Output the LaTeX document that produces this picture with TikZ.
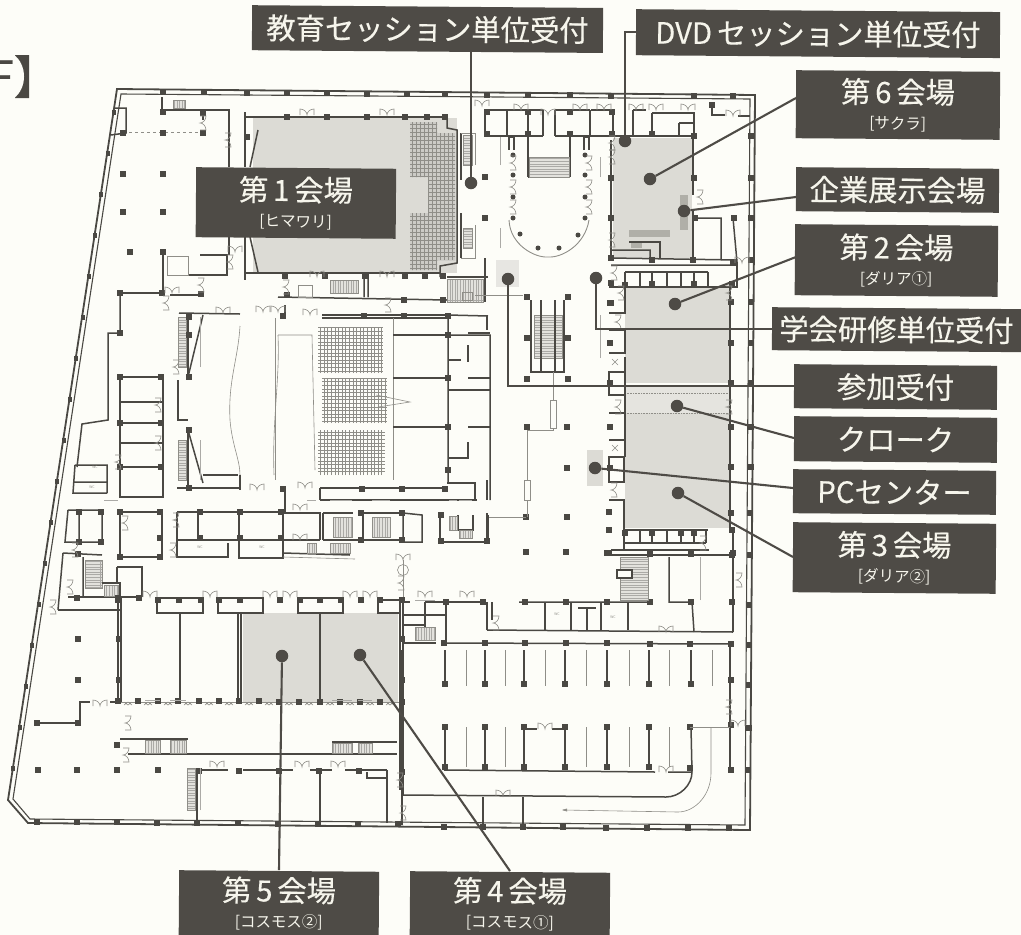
\documentclass[tikz,border=0pt]{standalone}
\usepackage{fontspec}
\setmainfont{Noto Sans CJK JP}
\newfontfamily\jpb[FakeBold=0.35]{Noto Sans CJK JP}
\definecolor{paper}{HTML}{FDFDF8}
\definecolor{boxc}{HTML}{4E4B46}
\definecolor{txtc}{HTML}{F6F5EC}
\definecolor{wallc}{HTML}{4A4843}
\definecolor{hallc}{HTML}{DCDBD5}
\definecolor{darkc}{HTML}{B0AFA8}
\definecolor{thinc}{HTML}{8F8E88}
\tikzset{
  wl/.style={draw=wallc,line width=1.5pt,line join=miter},
  wt/.style={draw=wallc,line width=2.8pt},
  wn/.style={draw=thinc,line width=.6pt},
  lab/.style={fill=boxc,text=txtc,inner sep=0pt,align=center,rotate=-0.45,font=\jpb\fontsize{29.3}{31}\selectfont},
  conn/.style={draw=boxc,line width=2.1pt},
  dotn/.style={circle,fill=boxc,draw=none,minimum size=12.5pt,inner sep=0pt},
  seat/.style={draw=thinc,line width=.4pt}
}
\newcommand{\cols}[1]{\foreach \a/\b in {#1}{\fill[wallc] (\a-2.9,\b-2.9) rectangle (\a+2.9,\b+2.9);}}
\newcommand{\hd}[1]{\foreach \a/\b in {#1}{\draw[wn] (\a-7,\b) -- (\a-7,\b-6) .. controls (\a-3,\b-6) and (\a,\b-3) .. (\a,\b) .. controls (\a,\b-3) and (\a+3,\b-6) .. (\a+7,\b-6) -- (\a+7,\b);}}
\newcommand{\vd}[1]{\foreach \a/\b in {#1}{\draw[wn] (\a,\b-7) -- (\a+6,\b-7) .. controls (\a+6,\b-3) and (\a+3,\b) .. (\a,\b) .. controls (\a+3,\b) and (\a+6,\b+3) .. (\a+6,\b+7) -- (\a,\b+7);}}
\newcommand{\stair}[4]{\fill[hallc!80] (#1,#2) rectangle (#3,#4);\draw[seat,draw=thinc!75,line width=.25pt,xstep=2.6pt,ystep=100pt] (#1,#2) grid (#3,#4);\draw[wn] (#1,#2) rectangle (#3,#4);}
\newcommand{\vstair}[4]{\fill[hallc!80] (#1,#2) rectangle (#3,#4);\draw[seat,draw=thinc!75,line width=.25pt,ystep=2.6pt,xstep=100pt] (#1,#2) grid (#3,#4);\draw[wn] (#1,#2) rectangle (#3,#4);}
\newcommand{\sublab}[1]{\\[-5pt]{\normalfont\fontsize{15.5}{17}\selectfont #1}}
\begin{document}
\begin{tikzpicture}[x=1pt,y=-1pt]
\useasboundingbox (0,0) rectangle (1021,935);
\fill[paper] (0,0) rectangle (1021,935);
\node[anchor=base west,inner sep=0pt,text=wallc,font=\jpb\fontsize{46}{48}\selectfont] (title) at (-12,94) {F】};

% --- halls
\fill[hallc] (253,118) rectangle (457,273);
\fill[hallc] (613,138) rectangle (692,258);
\fill[hallc] (625,287) rectangle (730,383);
\fill[hallc!75] (625,385) rectangle (730,413);
\fill[hallc] (625,413) rectangle (730,528);
\fill[hallc] (243,613) rectangle (398,702);
\fill[darkc] (680,195) rectangle (688,230);
\fill[darkc] (629,230) rectangle (670,237);
\fill[darkc] (631,242) rectangle (642,248);
\fill[hallc] (587,450) rectangle (603,486);
\fill[hallc!70] (496,260) rectangle (519,287);
\draw[thinc,line width=.6pt,densely dotted] (625,393) -- (730,393) (625,413) -- (730,413);

% --- seats
\begin{scope}
\clip (410,122) -- (437,122) -- (437,133) -- (455,133) -- (455,260) -- (437,260) -- (437,270) -- (410,270) -- (410,213) -- (428,213) -- (428,177) -- (410,177) -- cycle;
\fill[darkc!65] (405,118) rectangle (458,273);
\draw[seat,step=4pt] (405,118) grid (458,273);
\end{scope}
\draw[seat,step=3.6pt] (318,327) grid (383,373);
\draw[seat,step=3.6pt] (322,378) grid (387,423);
\draw[seat,step=3.6pt] (318,430) grid (385,475);

% --- outer wall
\draw[wl,line width=1.8pt] (117,89) -- (755,95) -- (750,830) -- (28,823) -- (8,800) -- cycle;
\draw[wl,line width=1.1pt] (121,94) -- (750,99) -- (745,825) -- (30,819) -- (13,799) -- cycle;
\foreach \yy in {112,153,194,235,276,317,358,399,440,481,522,563,604,645,686,727,768}{
  \pgfmathsetmacro{\xw}{117-(\yy-89)*0.1533+1}
  \fill[wallc] (\xw-2.5,\yy-2.5) rectangle (\xw+1.5,\yy+2.5);}
\cols{163/92,204/92,247/93,287/93,327/93,367/94,407/94,445/94,487/95,528/95,570/95,611/96,694/96,733/96}
\cols{751/136,751/178,751/218,751/260,751/302,751/343,751/383,751/427,751/467,750/513,750/555,749/605,749/645,749/685,749/728,748/770}
\cols{37/822,77/822,117/822,157/823,197/823,238/823,278/824,318/824,358/824,398/824,444/827,483/827,523/827,563/827,606/828,647/828,688/828,729/828}

% --- top left rooms
\draw[wl] (162,97) -- (162,110) -- (203,110) (203,110) -- (229,110) -- (229,167) (203,110) -- (203,120);
\draw[wl] (115,108) -- (126,108) -- (126,133) -- (111,135);
\draw[wn,dashed] (123,132) -- (203,132);
\stair{173}{100}{185}{108}
\cols{123/133,163/133,203/133,163/112,203/113,123/174,163/174,123/212,163/212,130/252,163/252}
\draw[wl] (229,237) -- (229,255) (200,255) -- (227,255) -- (227,275) -- (188,275);
\draw[wn] (188,256) -- (167,256) -- (167,275) -- (188,275) -- (188,256);
\draw[wl] (163,252) -- (163,293) (120,293) -- (163,293) (170,295) -- (203,295);
\draw[wl] (120,293) -- (120,333) -- (108,333) -- (108,420) -- (82,424) -- (77,467);
\cols{120/293,162/293,201/294,120/333}

% --- Hall 1
\draw[wl] (245,117) -- (447,117) (245,273) -- (440,273);
\draw[wt] (245,112) -- (245,167) (245,237) -- (245,280);
\draw[wl] (258,130) -- (250,167) (250,237) -- (258,272);
\draw[wl] (447,117) -- (447,128) -- (457,130) -- (457,263) -- (440,266) -- (440,277);
\draw[wt] (461,133) -- (461,180) (461,213) -- (461,258);
\draw[wn] (461,133) -- (475,133) -- (475,165) (461,258) -- (475,258) -- (475,225);
\vstair{463}{135}{472}{165}
\vstair{463}{228}{472}{248}
\cols{287/117,327/117,367/117,405/117,427/117,445/117,285/276,325/276,365/276,405/276,425/276,443/276,247/137}
% below hall 1
\draw[wl] (278,297) -- (447,300) (364,273) -- (364,297) (368,273) -- (368,297);
\draw[wl] (447,277) -- (488,277);
\draw[wt] (485,258) -- (485,302);
\stair{447}{279}{483}{302}
\stair{330}{280}{358}{293}
\draw[wn] (298,285) rectangle (312,297);
\cols{404/300,443/300,287/295}
\draw[wn] (462,292) rectangle (472,300);

% --- Main theatre
\draw[wl] (179,313) -- (240,314);
\draw[wl] (322,315) -- (448,315) (322,318) -- (448,318);
\draw[wl] (285,305) -- (285,315);
\draw[wl] (448,315) -- (448,483) (448,315) -- (488,316) (448,335) -- (490,335) -- (490,500);
\draw[wt] (487,316) -- (487,330);
\draw[wn] (393,318) -- (393,480) (275,318) -- (275,480);
\draw[wl] (393,335) -- (448,335) (393,378) -- (448,378) (393,427) -- (448,427);
\draw[wl] (448,360) -- (461,360) (448,390) -- (490,390);
\draw[wt] (468,378) -- (490,378) (468,427) -- (490,427) (468,333) -- (490,333);
\draw[wl] (468,345) -- (468,362) (468,442) -- (468,458) -- (448,458);
\draw[wn] (278,335) -- (312,335) -- (315,470);
\draw[wn] (240,326) .. controls (238,360) and (228,380) .. (230,420) .. controls (232,445) and (240,460) .. (240,475);
\draw[wn] (278,335) .. controls (280,380) and (272,420) .. (274,475);
\draw[wn] (376,395) -- (410,402) -- (378,407);
\draw[wl] (203,315) -- (188,377) (188,430) -- (203,483);
\draw[wl] (188,313) -- (188,377) (188,430) -- (188,488);
\draw[wl] (178,380) -- (178,420) -- (188,420);
\vstair{178}{317}{186}{367}
\vstair{178}{440}{186}{480}
\cols{189/317,189/335,189/377,189/430,189/488,283/316,364/316,404/316,448/316,448/335,448/378,448/427,448/470}
\draw[wl] (177,488) -- (240,488) (240,475) -- (240,490) (203,475) -- (238,475);
\draw[wl] (320,488) -- (447,488) (320,500) -- (477,500) (447,483) -- (475,483) -- (475,500);
\draw[wt] (487,480) -- (487,500);
\draw[wl] (320,488) -- (320,500);
\draw[wl] (285,487) -- (285,512);
\cols{283/489,362/489,402/489,445/489}

% --- left column rooms
\draw[wl] (120,377) -- (163,377) -- (163,497) -- (120,497) -- (120,377);
\draw[wl,line width=1.8pt] (120,423) -- (163,423) (120,467) -- (163,467);
\draw[wl] (120,402) -- (163,402) (120,443) -- (163,443);
\cols{120/377,161/377,120/423,161/423,120/467,161/467}
\draw[wl] (120,512) -- (162,512) -- (162,557) -- (120,557) -- cycle;
\cols{120/512,160/512,120/557,160/557,160/538}
\draw[wl] (177,512) -- (283,512) (177,512) -- (177,557) -- (228,557) -- (228,543) (177,540) -- (283,540) (198,512) -- (198,540) (239,512) -- (239,558) -- (283,558) -- (283,512);
\cols{200/512,240/512,281/512,200/538,240/538,281/538}
\draw[wl] (283,513) -- (320,513) -- (320,540) (283,540) -- (320,540);
\draw[wl] (323,513) -- (353,513) (363,513) -- (403,513) (323,540) -- (403,540) (363,513) -- (363,540) (323,513) -- (323,540);
\stair{333}{517}{352}{537}
\stair{372}{517}{390}{537}
\draw[wl] (403,513) -- (422,515) -- (422,542) -- (403,542) -- (403,513);
\cols{361/513,402/513,361/540,402/540}
\draw[wl] (440,513) -- (440,542) -- (488,542) -- (488,515);
\draw[wl] (458,515) -- (458,530) -- (473,530) -- (473,515);
\stair{449}{516}{457}{530}
\stair{459}{530}{472}{538}
\draw[wt] (487,513) -- (487,542);
\cols{441/515,441/541,487/541}
\draw[wl] (283,553) -- (350,555);
\draw[wn] (283,557) -- (355,559);
\stair{307}{543}{316}{553}
\stair{330}{543}{350}{553}
% small west rooms
\draw[wl] (75,465) -- (107,465) -- (107,493) (75,465) -- (73,493) -- (107,493) (74,482) -- (107,482);
\draw[wl] (68,510) -- (65,542) -- (102,542) -- (102,510) -- (68,510) (79,510) -- (79,542);
\cols{79/512,79/542,101/512,101/542}
\draw[wl] (63,553) -- (58,610) (63,553) -- (102,555) (83,557) -- (83,597);
\vstair{85}{560}{102}{588}
\draw[wl] (102,583) -- (120,583) -- (120,597) (117,567) -- (142,567) -- (142,597) (117,567) -- (117,583);
\draw[wl] (68,597) -- (142,597) (58,610) -- (120,610);
\stair{104}{585}{118}{596}
\cols{77/598,118/598,139/598,78/554}
% --- Bottom halls
\draw[wl] (157,598) -- (203,598) -- (203,613) -- (157,613) -- cycle;
\draw[wl] (218,598) -- (263,598) -- (263,613) -- (218,613) -- cycle;
\draw[wl] (298,598) -- (343,598) -- (343,613) -- (298,613) -- cycle;
\draw[wl] (378,600) -- (400,600) -- (400,613) -- (378,613) -- cycle;
\cols{158/600,179/600,201/600,219/600,240/600,280/600,300/600,320/600,341/600,361/600,380/600,402/600,118/600}
\draw[wl] (180,613) -- (180,702) (320,613) -- (320,702);
\draw[wl,line width=1.2pt] (118,598) -- (118,702) (121,598) -- (121,702);
\draw[wl,line width=1.2pt] (238,613) -- (238,702) (241,613) -- (241,702);
\draw[wl,line width=1.2pt] (400,598) -- (400,790) (403,598) -- (403,795);
\draw[wn] (118,702) -- (402,702);
\cols{138/701,158/701,178/701,199/701,219/701,239/701,259/701,279/702,299/702,320/702,340/702,360/702,380/702,402/702,118/701,119/639,119/680,402/639,402/680}
\foreach \px in {128,148,168,188,209,229,249,269,289,309,330,350,370,390}{\draw[wn] (\px-4,702) -- (\px,705) -- (\px+4,702) (\px-4,705) -- (\px,702) -- (\px+4,705);}
\cols{78/639,78/680,37/723,78/723}
\draw[wl] (37,723) -- (80,723) -- (80,702) -- (90,702) (110,702) -- (118,702);
\draw[wl] (120,739) -- (188,739) (332,742) -- (397,742) (128,754) -- (397,754);
\foreach \px in {198,218,238,258,278,298,318}{\draw[wallc,line width=2pt] (\px-3,754) -- (\px+3,754);}
\stair{145}{740}{160}{753}
\stair{170}{740}{186}{753}
\stair{332}{743}{352}{753}
\stair{358}{743}{372}{753}
\cols{117/745,38/770,77/770,117/770,158/770,239/771,279/771,319/771,359/771,199/771,402/772}
\draw[wl] (197,770) -- (228,770) (243,770) -- (293,770) (310,770) -- (332,770) (345,770) -- (387,770) (197,770) -- (197,823) (320,770) -- (320,823) (387,770) -- (387,823);
\draw[wl] (367,772) -- (367,778) -- (387,778);
\vstair{187}{768}{195}{810}

% --- Entrance rooms (lower middle)
\draw[wl] (402,615) -- (446,615) (446,602) -- (446,643) (402,643) -- (436,643);
\draw[wl] (405,602) -- (410,602) (425,602) -- (446,602) (425,602) -- (425,627) (404,625) -- (425,625);
\stair{415}{627}{435}{640}
\draw[wl] (446,602) -- (485,602) (487,602) -- (487,630) (492,602) -- (492,620);
\draw[wl] (519,602) -- (650,602) (487,630) -- (733,632);
\draw[wl] (545,602) -- (545,630) (571,602) -- (571,630) (587,608) -- (587,630) (601,602) -- (601,630) (628,602) -- (628,630) (578,608) -- (596,608);
\draw[wl] (648,557) -- (648,602) (669,557) -- (669,602) -- (692,602) -- (694,632);
\draw[wl] (733,530) -- (733,632);
\cols{446/602,483/602,525/602,566/602,607/602,650/602,691/602,732/602,732/555,732/530}
\vstair{620}{557}{648}{600}
\draw[wl,fill=paper] (617,570) rectangle (632,578);
\draw[wl] (611,555) -- (733,555) (611,550) -- (709,550);
\draw[wl] (625,530) -- (708,530) (625,543) -- (706,543) (640,530) -- (640,543) (652,530) -- (652,543) (667,530) -- (667,543) (681,530) -- (681,543) (694,530) -- (694,543) (706,530) -- (706,543);
\cols{625/533,652/533,681/533,694/533,607/553,650/554,691/554,733/553}

% --- parking
\draw[wl] (444,643) -- (732,644);
\cols{444/643,485/643,525/643,566/643,607/643,650/644,690/644,731/644}
\foreach \px in {445,485,524,565,607,649,691}{\draw[wl,line width=1.3pt] (\px,650) -- (\px,684); \fill[wallc] (\px-2.9,681.1) rectangle (\px+2.9,686.9);}
\foreach \px in {466,505,545,586,629,669,712}{\draw[wn,line width=.4pt] (\px,650) -- (\px,686);}
\foreach \px in {445,485,565,607,649}{\draw[wl,line width=1.3pt] (\px,726) -- (\px,767); \fill[wallc] (\px-2.9,724.1) rectangle (\px+2.9,729.9); \fill[wallc] (\px-2.9,764.1) rectangle (\px+2.9,769.9);}
\cols{524/727,524/767,690/727,690/768,731/725,731/680,731/770}
\draw[wl] (524,727) -- (524,770) (524,729) -- (537,729) (552,729) -- (565,729);
\foreach \px in {466,505,586,629,669}{\draw[wn,line width=.4pt] (\px,727) -- (\px,767);}
\draw[wl] (444,770) -- (655,772) (668,772) -- (692,772) (691,727) -- (692,772) .. controls (692,785) and (680,797) .. (666,797) -- (402,795);
\draw[wl] (730,645) -- (730,772);
\draw[wn] (690,727) -- (730,727);
\draw[wn] (711,727) -- (711,773) .. controls (711,795) and (695,812) .. (678,812) -- (563,810);
\fill[thinc] (562,810) -- (567,808.5) -- (567,811.5) -- cycle;
\draw[wl] (483,797) -- (483,825) (523,797) -- (523,827) (402,795) -- (402,825);
\draw[wl] (402,650) -- (402,795);

% --- Top rooms row
\draw[wl] (485,110) -- (543,110) (555,110) -- (590,110) (591,110) -- (615,110) (633,110) -- (646,110) (652,113) -- (694,113) -- (694,136);
\draw[wl] (485,136) -- (543,136) (555,136) -- (692,136);
\draw[wl] (485,110) -- (485,136) (507,110) -- (507,136) (528,110) -- (528,136) (543,110) -- (543,136) (555,110) -- (555,136) (590,110) -- (590,136) (613,110) -- (613,136) (633,110) -- (633,136) (652,113) -- (652,136) (679,123) -- (679,136) (679,123) -- (694,123);
\cols{487/112,487/134,528/112,528/134,570/112,570/134,612/112,612/134,652/134,694/136}
\draw[wl] (712,103) -- (712,115) -- (725,115) (738,116) -- (750,116);
\cols{712/105}
% lobby U
\draw[wl] (509,137) -- (509,150) (514,137) -- (514,150) (509,137) -- (514,137) (584,137) -- (584,150) (589,137) -- (589,150) (584,137) -- (589,137);
\draw[wl] (528,136) -- (528,177) (570,136) -- (570,177) (528,177) -- (570,177);
\vstair{529}{157}{569}{177}
\draw[wn,line width=.9pt] (509,220) .. controls (510,245) and (535,258) .. (548,257) .. controls (562,258) and (585,245) .. (589,220);
\foreach \px in {155,175,197,218}{\fill[wallc] (513,\px) circle (2.5); \fill[wallc] (585,\px) circle (2.5);}
\foreach \px/\py in {520/234,578/235,538/248,559/248}{\fill[wallc] (\px,\py) circle (2.5);}
\cols{485/177,485/218}

% --- Hall 6 walls
\draw[wl] (611,140) -- (611,258) (693,136) -- (693,195) (693,211) -- (693,260);
\draw[wl] (611,258) -- (737,260) (611,265) -- (737,265) (611,250) -- (650,250) -- (650,258);
\draw[wl] (629,242) -- (660,242) -- (660,258);
\draw[wl] (694,218) -- (721,218) -- (721,260) (733,218) -- (737,262);
\cols{611/178,611/218,611/258,694/178,695/218,734/218,652/260,693/260,733/262}
% --- halls 2/3
\draw[wl] (737,262) -- (737,287) -- (625,287) -- (625,313) -- (609,313) (609,287) -- (625,287);
\draw[wl] (625,272) -- (708,272) (708,272) -- (708,286);
\foreach \px in {625,640,652,667,681,694}{\draw[wl] (\px,272) -- (\px,286);}
\cols{611/283,625/285,652/284,694/284,732/284,611/303}
\draw[wl] (730,287) -- (730,530);
\cols{731/302,731/343,731/383,731/427,731/467,731/513}
\draw[wl] (609,330) -- (625,330) -- (625,353) -- (609,353);
\draw[wl] (609,372) -- (625,372) -- (625,395) -- (609,395) -- cycle;
\draw[wl] (609,413) -- (625,413) -- (625,440) -- (609,440);
\draw[wl] (609,457) -- (624,457) -- (624,482) -- (609,482) -- cycle;
\draw[wl] (609,500) -- (624,500) -- (624,550);
\cols{610/303,610/343,610/383,610/427,610/468,609/512,609/530,609/553}
\draw[wl] (625,357) -- (625,372) (625,395) -- (625,413) (625,440) -- (625,457);
% --- columns/escalators
\draw[wl] (531,300) -- (531,372) -- (564,372) -- (564,300);
\vstair{534}{315}{562}{358}
\draw[wl] (541,300) -- (541,372) (555,300) -- (555,372);
\cols{527/297,568/297,527/338,568/338,527/379,568/379,527/427,567/427,526/517,567/517,526/552,566/552,567/468}
\draw[wn] (475,295) -- (523,295) (553,372) -- (553,430) -- (527,430) (527,430) -- (527,517) (489,517) -- (526,517);
\draw[wn,fill=paper] (550,400) rectangle (556,428);
\draw[wn,fill=paper] (524,480) rectangle (530,500);

% --- doors
\hd{307/115,387/115,235/252,172/293,263/312,278/312,310/315,223/313,317/277,387/277,425/597,467/597,150/597,210/597,270/597,290/597,350/597,370/597,300/510,300/540,100/706,217/767,302/767,338/767,257/490,305/488,521/110,548/115,580/110,604/110,636/110,656/110,688/110,733/116,482/106,666/632,738/726,545/729,503/796,666/772,742/263}
\vd{200/123,225/140,227/262,198/285,163/303,283/287,385/305,173/367,155/405,155/443,115/462,173/520,122/523,170/550,72/550,67/587,50/607,125/723,123/755,397/780,400/813,493/623,609/143,609/157,609/240,697/197,510/163,510/187,510/207,586/163,586/187,586/207,611/273,618/293,726/293,615/322,615/407,726/407,611/490,736/580,726/707,700/543}
\draw[wn] (403,560) -- (403,597);
\draw[wn] (403,570) circle (5.5);
\hd{403/560}
\vd{398/583}
\foreach \px/\py in {615/362,615/448}{\draw[wn] (\px-3,\py-3) -- (\px+3,\py+3) (\px-3,\py+3) -- (\px+3,\py-3);}
% WC marks
\foreach \px/\py in {95/467,92/487,200/547,262/547,557/614,613/617}{\node[text=thinc,font=\fontsize{3.5}{4}\selectfont,inner sep=0pt] at (\px,\py) {WC};}

% --- markers and labels
\node[dotn] (dEdu) at (471,183) {};
\node[dotn] (dDvd) at (625,141) {};
\node[dotn] (dSix) at (650,179) {};
\node[dotn] (dExh) at (684,211) {};
\node[dotn] (dTwo) at (675,304) {};
\node[dotn] (dGak) at (596,278) {};
\node[dotn] (dReg) at (508,279) {};
\node[dotn] (dClo) at (677,406) {};
\node[dotn] (dPc) at (595,468) {};
\node[dotn] (dThr) at (678,493) {};
\node[dotn] (dFiv) at (282,656) {};
\node[dotn] (dFou) at (360,655) {};

\node[lab,minimum width=351pt,minimum height=45pt,anchor=north west] (lEdu) at (252,5) {教育セッション単位受付};
\node[lab,minimum width=364pt,minimum height=46pt,anchor=north west] (lDvd) at (636,9) {DVD\,セッション単位受付};
\node[lab,minimum width=204pt,minimum height=68pt,anchor=north west] (lSix) at (796,70) {第\,6\,会場\sublab{[サクラ]}};
\node[lab,minimum width=203pt,minimum height=44pt,anchor=north west] (lExh) at (796,167) {企業展示会場};
\node[lab,minimum width=203pt,minimum height=71pt,anchor=north west] (lTwo) at (795,224) {第\,2\,会場\sublab{[ダリア①]}};
\node[lab,minimum width=249pt,minimum height=43pt,anchor=north west] (lGak) at (772,307) {学会研修単位受付};
\node[lab,minimum width=203pt,minimum height=44pt,anchor=north west] (lReg) at (794,364) {参加受付};
\node[lab,minimum width=203pt,minimum height=45pt,anchor=north west] (lClo) at (794,416) {クローク};
\node[lab,minimum width=203pt,minimum height=44pt,anchor=north west] (lPc) at (793,469) {PCセンター};
\node[lab,minimum width=203pt,minimum height=70pt,anchor=north west] (lThr) at (793,522) {第\,3\,会場\sublab{[ダリア②]}};
\node[lab,minimum width=200pt,minimum height=70pt,anchor=north west] (lOne) at (196,167) {第\,1\,会場\sublab{[ヒマワリ]}};
\node[lab,minimum width=200pt,minimum height=65pt,anchor=north west] (lFiv) at (179,870) {第\,5\,会場\sublab{[コスモス②]}};
\node[lab,minimum width=200pt,minimum height=64pt,anchor=north west] (lFou) at (410,871) {第\,4\,会場\sublab{[コスモス①]}};

\coordinate (pDvd) at (lDvd.west);
\coordinate (pSix) at (796,98);
\coordinate (pExh) at (796,197);
\coordinate (pTwo) at (796,257);
\coordinate (pClo) at (794,438);
\coordinate (pPc) at (793,488);
\coordinate (pThr) at (793,557);
\coordinate (pFou) at (510,871);
\coordinate (pFiv) at (279,870);

\draw[conn] (dEdu) -- (dEdu |- lEdu.south);
\draw[conn] (dDvd) -- (dDvd |- pDvd) -- (pDvd);
\draw[conn] (dSix) -- (pSix);
\draw[conn] (dExh) -- (pExh);
\draw[conn] (dTwo) -- (pTwo);
\draw[conn] (dGak) -- (dGak |- lGak.west) -- (lGak.west);
\draw[conn] (dReg) -- (dReg |- lReg.west) -- (lReg.west);
\draw[conn] (dClo) -- (pClo);
\draw[conn] (dPc) -- (pPc);
\draw[conn] (dThr) -- (pThr);
\draw[conn] (dFiv) -- (pFiv);
\draw[conn] (dFou) -- (pFou);
\end{tikzpicture}
\end{document}
